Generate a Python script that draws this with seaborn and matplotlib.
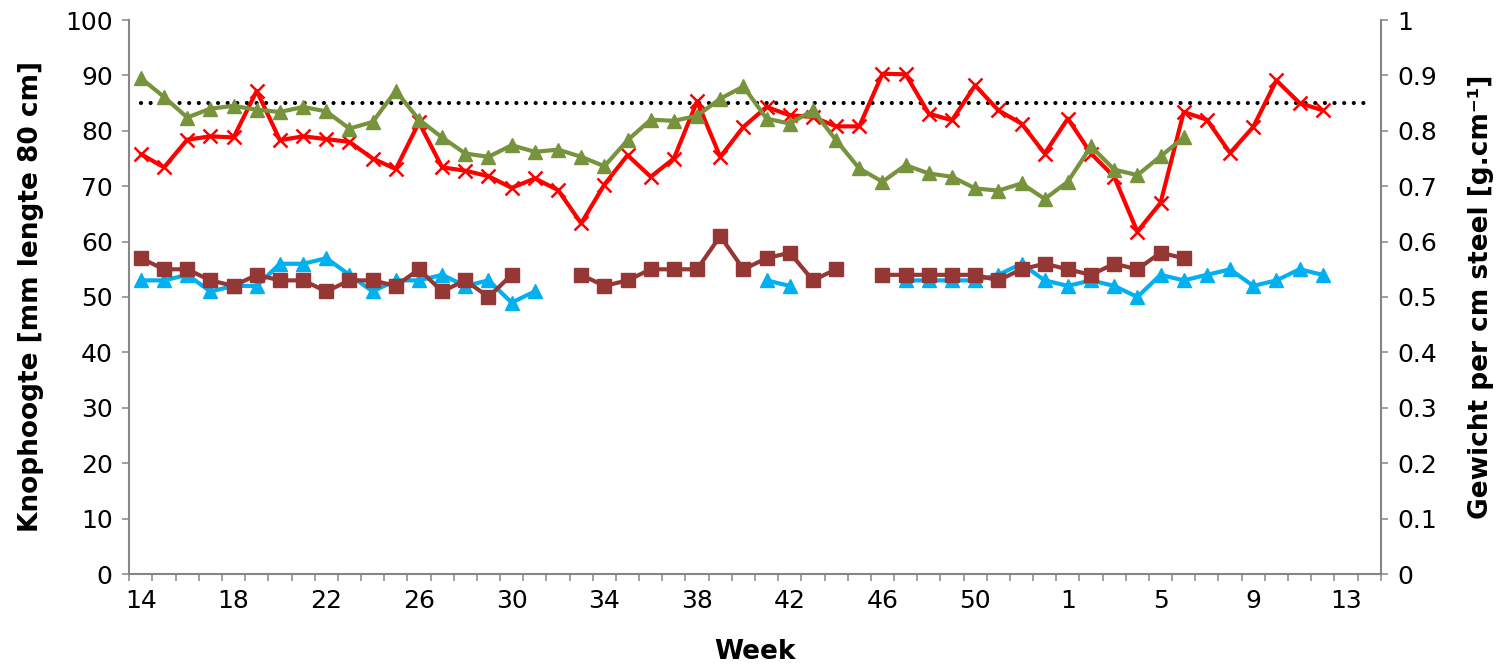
import matplotlib
matplotlib.use("Agg")
import matplotlib.pyplot as plt
import numpy as np
import pandas as pd
import seaborn as sns
from matplotlib.ticker import FuncFormatter

N = None
# Categories: weeks (year wraps after week 53)
weeks = list(range(14, 54)) + list(range(1, 15))

# Left axis: Knophoogte [mm lengte 80 cm]
knop_blue = [53, 53, 54, 51, 52, 52, 56, 56, 57, 54,
             51, 53, 53, 54, 52, 53, 49, 51, N, N,
             N, N, N, N, N, N, N, 53, 52, N,
             N, N, N, 53, 53, 53, 53, 54, 56, 53,
             52, 53, 52, 50, 54, 53, 54, 55, 52, 53,
             55, 54, N, N]
knop_brown = [57, 55, 55, 53, 52, 54, 53, 53, 51, 53,
              53, 52, 55, 51, 53, 50, 54, N, N, 54,
              52, 53, 55, 55, 55, 61, 55, 57, 58, 53,
              55, N, 54, 54, 54, 54, 54, 53, 55, 56,
              55, 54, 56, 55, 58, 57, N, N, N, N,
              N, N, N, N]

# Right axis: Gewicht per cm steel [g.cm-1]
gew_red = [0.758, 0.734, 0.784, 0.790, 0.788, 0.872, 0.783, 0.790, 0.785, 0.780,
           0.750, 0.731, 0.815, 0.734, 0.728, 0.718, 0.697, 0.714, 0.693, 0.633,
           0.703, 0.756, 0.717, 0.750, 0.853, 0.753, 0.807, 0.843, 0.828, 0.825,
           0.808, 0.808, 0.903, 0.902, 0.831, 0.819, 0.882, 0.837, 0.813, 0.759,
           0.822, 0.759, 0.717, 0.618, 0.670, 0.834, 0.820, 0.760, 0.807, 0.891,
           0.850, 0.837, N, N]
gew_green = [0.895, 0.861, 0.824, 0.840, 0.845, 0.838, 0.834, 0.843, 0.835, 0.804,
             0.816, 0.872, 0.820, 0.788, 0.759, 0.753, 0.774, 0.762, 0.766, 0.753,
             0.736, 0.783, 0.820, 0.818, 0.827, 0.858, 0.880, 0.822, 0.813, 0.837,
             0.783, 0.732, 0.708, 0.738, 0.723, 0.717, 0.696, 0.692, 0.705, 0.677,
             0.708, 0.772, 0.730, 0.720, 0.754, 0.788, N, N, N, N,
             N, N, N, N]
norm_value = 0.85

left_ticks = list(range(0, 101, 10))
right_ticks = [round(0.1 * k, 1) for k in range(11)]

sns.set_theme(style="ticks")
plt.rcParams["font.family"] = ["DejaVu Sans"]
plt.rcParams["text.color"] = "black"
plt.rcParams["axes.labelcolor"] = "black"

AX_COL = "#868686"
FS = 18

W, H = 1497, 665
fig = plt.figure(figsize=(W / 100, H / 100), dpi=100)
x0, x1, y0, y1 = 129.3, 1380.7, 20, 574
ax = fig.add_axes([x0 / W, 1 - y1 / H, (x1 - x0) / W, (y1 - y0) / H])
ax2 = ax.twinx()


def segments(vals):
    rows, seg, prev = [], 0, False
    for i, v in enumerate(vals):
        if v is None:
            if prev:
                seg += 1
            prev = False
            continue
        rows.append((i, v, seg))
        prev = True
    return pd.DataFrame(rows, columns=["pos", "val", "seg"])


def draw(vals, axis, color, marker, ms, mew=1.0, lw=3.0):
    df = segments(vals)
    sns.lineplot(data=df, x="pos", y="val", units="seg", estimator=None,
                 ax=axis, color=color, lw=lw, marker=marker, markersize=ms,
                 markeredgecolor=color, markerfacecolor=color,
                 markeredgewidth=mew, legend=False)


draw(knop_blue, ax, "#00B0F0", "^", 10.5)
draw(knop_brown, ax, "#953735", "s", 10)

norm_df = pd.DataFrame({"pos": range(len(weeks)), "val": [norm_value] * len(weeks)})
sns.lineplot(data=norm_df, x="pos", y="val", ax=ax2, color="black", lw=3,
             linestyle=(0, (0.01, 2.3)), dash_capstyle="round", legend=False)
draw(gew_red, ax2, "#FF0000", "x", 10.5, mew=1.8)
draw(gew_green, ax2, "#77933C", "^", 10.5)

n = len(weeks)
ax.set_xlim(-0.5, n - 0.5)
ax.set_ylim(0, 100)
ax2.set_ylim(0, 1)

major_pos = list(range(0, n, 4))
ax.set_xticks(major_pos)
ax.set_xticklabels([str(weeks[i]) for i in major_pos])
ax.set_xticks(np.arange(-0.5, n, 1.0), minor=True)
ax.tick_params(axis="x", which="major", length=0, pad=11, labelsize=FS, labelcolor="black")
ax.tick_params(axis="x", which="minor", length=5, width=1.1, color=AX_COL, direction="out")

ax.set_yticks(left_ticks)
ax.tick_params(axis="y", which="major", length=5, width=1.1, color=AX_COL,
               direction="out", pad=7, labelsize=FS, labelcolor="black")
ax2.set_yticks(right_ticks)
ax2.yaxis.set_major_formatter(FuncFormatter(lambda v, p: f"{v:g}"))
ax2.tick_params(axis="y", which="major", length=5, width=1.1, color=AX_COL,
                direction="out", pad=7, labelsize=FS, labelcolor="black")

for a in (ax, ax2):
    a.spines["top"].set_visible(False)
ax.spines["right"].set_visible(False)
ax2.spines["left"].set_visible(False)
ax2.spines["bottom"].set_visible(False)
for s in ("left", "bottom"):
    ax.spines[s].set_color(AX_COL)
    ax.spines[s].set_linewidth(1.5)
ax2.spines["right"].set_color(AX_COL)
ax2.spines["right"].set_linewidth(1.5)

ax.set_xlabel("Week", fontsize=19, fontweight="bold", color="black")
ax.set_ylabel("Knophoogte [mm lengte 80 cm]", fontsize=19, fontweight="bold", color="black")
ax2.set_ylabel("Gewicht per cm steel [g.cm\u207b\u00b9]", fontsize=19, fontweight="bold", color="black")
ax.xaxis.set_label_coords(0.5, -0.118)
ax.yaxis.set_label_coords(-0.068, 0.5)
ax2.yaxis.set_label_coords(1.07, 0.5)

fig.savefig("out.png", dpi=100)
